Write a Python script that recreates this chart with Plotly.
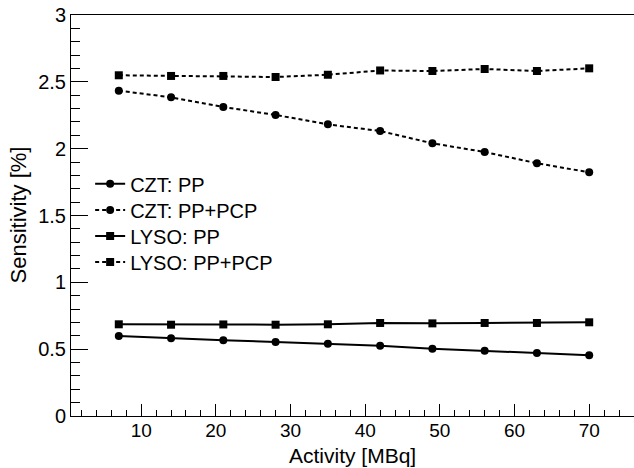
import plotly.graph_objects as go

activity = [7, 14, 21, 28, 35, 42, 49, 56, 63, 70]
czt_pp = [0.598, 0.581, 0.566, 0.554, 0.541, 0.526, 0.504, 0.489, 0.471, 0.454]
czt_pp_pcp = [2.434, 2.384, 2.312, 2.252, 2.182, 2.132, 2.040, 1.975, 1.891, 1.823]
lyso_pp = [0.686, 0.683, 0.685, 0.683, 0.686, 0.696, 0.693, 0.696, 0.696, 0.701]
lyso_pp_pcp = [2.549, 2.544, 2.544, 2.536, 2.553, 2.585, 2.581, 2.596, 2.581, 2.601]

FONT = "Liberation Sans"
fig = go.Figure()

series = [
    ("CZT: PP", czt_pp, "circle", "solid", "legend"),
    ("CZT: PP+PCP", czt_pp_pcp, "circle", "4px,3px", "legend2"),
    ("LYSO: PP", lyso_pp, "square", "solid", "legend3"),
    ("LYSO: PP+PCP", lyso_pp_pcp, "square", "4px,3px", "legend4"),
]
for name, vals, sym, dash, leg in series:
    fig.add_trace(go.Scatter(
        x=activity, y=vals, name=name, mode="lines+markers",
        line=dict(color="black", width=2, dash=dash),
        marker=dict(symbol=sym, size=8, color="black"),
        legend=leg,
    ))

# legend row centres (paper fraction of plot height)
legend_rows = [0.579, 0.514, 0.449, 0.384]

def leg(y):
    return dict(x=0.034, y=y, xanchor="left", yanchor="middle",
                bgcolor="rgba(0,0,0,0)", itemwidth=30,
                font=dict(family=FONT, size=20, color="black"))

fig.update_layout(
    width=634, height=468,
    margin=dict(l=71, r=0, t=15, b=52),
    paper_bgcolor="white", plot_bgcolor="white",
    font=dict(family=FONT, size=20, color="black"),
    showlegend=True,
    legend=leg(legend_rows[0]),
    legend2=leg(legend_rows[1]),
    legend3=leg(legend_rows[2]),
    legend4=leg(legend_rows[3]),
    annotations=[
        dict(text="Activity [MBq]", xref="paper", yref="paper",
             x=0.5, y=-39/401, xanchor="center", yanchor="middle",
             showarrow=False, font=dict(family=FONT, size=21, color="black")),
        dict(text="Sensitivity [%]", xref="paper", yref="paper",
             x=-53/563, y=0.5, xanchor="center", yanchor="middle", textangle=-90,
             showarrow=False, font=dict(family=FONT, size=22, color="black")),
    ],
)
fig.update_xaxes(
    range=[0.6, 76.0], showgrid=False, zeroline=False,
    showline=True, linecolor="black", linewidth=1, mirror=True,
    ticks="inside", ticklen=12, tickcolor="black", tickwidth=1,
    dtick=10, tick0=0, ticklabelstandoff=-3,
    minor=dict(ticks="inside", ticklen=6, dtick=2, tickcolor="black", tickwidth=1, showgrid=False),
    tickfont=dict(family=FONT, size=19),
)
fig.update_yaxes(
    range=[0, 3], showgrid=False, zeroline=False,
    showline=True, linecolor="black", linewidth=1, mirror=False,
    ticks="inside", ticklen=17, tickcolor="black", tickwidth=1,
    dtick=0.5, tick0=0,
    minor=dict(ticks="inside", ticklen=9, dtick=0.1, tickcolor="black", tickwidth=1, showgrid=False),
    tickfont=dict(family=FONT, size=20),
)

fig.write_html("out.html")
